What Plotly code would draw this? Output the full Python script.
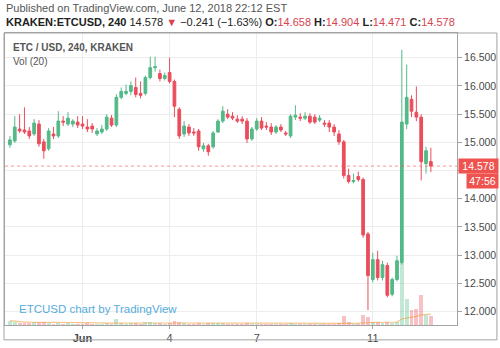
import pandas as pd
import plotly.graph_objects as go

# ---------------- data (4h candles, KRAKEN ETC/USD) ----------------
start = "2018-05-29 12:00"
n_candles = 88
times = pd.date_range(start, periods=n_candles, freq="4h")

opens = [14.955, 15.025, 15.236, 15.218, 15.201, 15.148, 15.324, 15.008, 14.885, 15.148,
         15.113, 15.376, 15.324, 15.324, 15.359, 15.324, 15.271, 15.288, 15.148, 15.183,
         15.236, 15.429, 15.306, 15.798, 15.868, 15.903, 15.973, 15.868, 15.868, 16.149,
         16.324, 16.219, 16.131, 16.237, 16.079, 15.587, 15.148, 15.271, 15.183, 15.201,
         14.885, 14.938, 14.920, 15.183, 15.376, 15.499, 15.464, 15.411, 15.411, 15.376,
         15.060, 15.236, 15.376, 15.289, 15.271, 15.183, 15.271, 15.166, 15.113, 15.447,
         15.447, 15.429, 15.464, 15.447, 15.394, 15.341, 15.341, 15.271, 15.148, 15.008,
         14.411, 14.305, 14.393, 14.340, 13.375, 12.567, 12.918, 12.602, 12.813, 12.304,
         12.567, 12.866, 15.324, 15.763, 15.534, 15.447, 14.622, 14.658]
highs = [15.113, 15.464, 15.499, 15.622, 15.271, 15.411, 15.394, 15.060, 15.253, 15.271,
         15.552, 15.464, 15.534, 15.411, 15.464, 15.464, 15.411, 15.341, 15.253, 15.306,
         15.499, 15.482, 15.851, 15.973, 16.026, 16.079, 16.149, 16.079, 16.184, 16.518,
         16.518, 16.289, 16.237, 16.500, 16.114, 15.622, 15.376, 15.324, 15.253, 15.236,
         14.990, 14.973, 15.201, 15.411, 15.640, 15.587, 15.534, 15.482, 15.464, 15.429,
         15.271, 15.429, 15.447, 15.359, 15.341, 15.306, 15.324, 15.201, 15.499, 15.657,
         15.517, 15.534, 15.517, 15.499, 15.482, 15.394, 15.394, 15.324, 15.218, 15.043,
         14.534, 14.446, 14.481, 14.376, 13.410, 13.041, 13.076, 12.900, 12.865, 12.602,
         12.988, 16.640, 16.377, 15.833, 15.991, 15.499, 14.920, 14.904]
lows = [14.903, 14.990, 15.166, 15.148, 15.060, 15.113, 14.920, 14.709, 14.850, 15.060,
        15.078, 15.288, 15.288, 15.271, 15.253, 15.236, 15.183, 15.166, 15.113, 15.148,
        15.201, 15.271, 15.271, 15.763, 15.833, 15.833, 15.798, 15.780, 15.833, 16.114,
        16.254, 16.079, 16.096, 16.044, 15.447, 15.060, 15.096, 15.113, 15.113, 14.850,
        14.832, 14.762, 14.885, 15.166, 15.341, 15.411, 15.394, 15.341, 15.324, 14.990,
        15.025, 15.201, 15.218, 15.218, 15.130, 15.148, 15.183, 15.113, 15.078, 15.394,
        15.376, 15.394, 15.324, 15.324, 15.359, 15.271, 15.183, 15.113, 14.955, 14.358,
        14.270, 14.270, 14.305, 13.305, 12.023, 12.515, 12.550, 12.550, 12.251, 12.269,
        12.532, 12.830, 15.236, 15.447, 15.376, 14.323, 14.446, 14.471]
closes = [15.043, 15.271, 15.201, 15.183, 15.113, 15.341, 14.973, 14.850, 15.201, 15.113,
          15.376, 15.359, 15.429, 15.376, 15.306, 15.288, 15.236, 15.236, 15.201, 15.236,
          15.447, 15.306, 15.798, 15.903, 15.903, 16.008, 15.850, 15.833, 16.149, 16.324,
          16.342, 16.131, 16.184, 16.079, 15.640, 15.113, 15.289, 15.166, 15.166, 14.920,
          14.938, 14.832, 15.166, 15.376, 15.552, 15.447, 15.429, 15.376, 15.376, 15.060,
          15.236, 15.376, 15.253, 15.271, 15.183, 15.271, 15.218, 15.148, 15.464, 15.482,
          15.429, 15.464, 15.359, 15.359, 15.429, 15.324, 15.271, 15.183, 15.008, 14.411,
          14.305, 14.323, 14.340, 13.357, 12.637, 12.918, 12.602, 12.830, 12.286, 12.567,
          12.900, 15.359, 15.798, 15.552, 15.447, 14.657, 14.850, 14.578]
volumes = [45, 30, 25, 20, 22, 28, 30, 26, 24, 15,
           25, 14, 18, 12, 15, 14, 16, 12, 14, 10,
           20, 15, 60, 25, 15, 18, 22, 14, 30, 35,
           25, 18, 12, 25, 40, 35, 20, 15, 12, 25,
           15, 18, 20, 16, 22, 12, 10, 10, 12, 25,
           15, 14, 12, 8, 10, 9, 8, 8, 22, 14,
           9, 8, 10, 10, 8, 7, 12, 14, 25, 90,
           30, 12, 15, 100, 85, 35, 28, 20, 30, 22,
           30, 630, 260, 150, 165, 300, 100, 90]

price_ticks = [12.0, 12.5, 13.0, 13.5, 14.0, 14.5, 15.0, 15.5, 16.0, 16.5]
date_ticks = ["2018-06-01", "2018-06-04", "2018-06-07", "2018-06-11"]
date_tick_text = ["<b>Jun</b>", "4", "7", "11"]
last_price = 14.578
countdown = "47:56"

UP = "#53b987"
DOWN = "#eb4d5c"

# ---------------- figure ----------------
W, H = 500, 348
ml, mr, mt, mb = 4, 43, 33, 20
pw, ph = W - ml - mr, H - mt - mb

def px_x(x):
    return (x - ml) / pw

def px_y(y):
    return (H - mb - y) / ph

vol_colors = ["rgba(83,185,135,0.35)" if c >= o else "rgba(235,77,92,0.35)"
              for o, c in zip(opens, closes)]
vol_ma = pd.Series(volumes).rolling(20, min_periods=1).mean()

fig = go.Figure()
fig.add_trace(go.Bar(x=times, y=volumes, marker=dict(color=vol_colors, line=dict(width=0)),
                     width=4 * 3600 * 1000 * 0.8, yaxis="y", hoverinfo="skip",
                     showlegend=False))
fig.add_trace(go.Scatter(x=times, y=vol_ma, mode="lines", yaxis="y",
                         line=dict(color="rgba(240,160,70,0.6)", width=1.2),
                         hoverinfo="skip", showlegend=False))
fig.add_trace(go.Candlestick(x=times, open=opens, high=highs, low=lows, close=closes,
                             yaxis="y2", whiskerwidth=0,
                             increasing=dict(line=dict(color=UP, width=1), fillcolor=UP),
                             decreasing=dict(line=dict(color=DOWN, width=1), fillcolor=DOWN),
                             hoverinfo="skip", showlegend=False))

t0 = pd.Timestamp(start)
x_left = t0 - pd.Timedelta(hours=4 * 1.02)
x_right = t0 + pd.Timedelta(hours=4 * 92.4)

y_top = 16.5 + (58 - 33) / 56.96
y_bot = 16.5 - (328 - 58) / 56.96

FRAME = "#a3a3a3"
GRID = "#ededed"
TXT = "#4a4a4a"
FONT = "Liberation Sans"

fig.update_layout(
    width=W, height=H, margin=dict(l=ml, r=mr, t=mt, b=mb),
    paper_bgcolor="white", plot_bgcolor="white",
    font=dict(family=FONT, size=10, color=TXT),
    bargap=0, boxgap=0.2, showlegend=False,
    xaxis=dict(type="date", range=[x_left, x_right], rangeslider=dict(visible=False),
               tickvals=pd.to_datetime(date_ticks), ticktext=date_tick_text,
               showgrid=True, gridcolor=GRID, gridwidth=1,
               ticks="outside", ticklen=3, tickcolor=FRAME,
               tickfont=dict(size=11, color=TXT, family=FONT),
               showline=True, linecolor=FRAME, linewidth=1, mirror=True,
               zeroline=False, fixedrange=True),
    yaxis=dict(range=[0, 2950], visible=False, fixedrange=True),
    yaxis2=dict(overlaying="y", side="right", range=[y_bot, y_top],
                tickvals=price_ticks,
                ticktext=["" if abs(v - 14.5) < 1e-9 else f"{v:.3f}" for v in price_ticks],
                showgrid=True, gridcolor=GRID, gridwidth=1,
                ticks="outside", ticklen=4, tickcolor=FRAME,
                tickfont=dict(size=10.5, color=TXT, family=FONT),
                showline=True, linecolor=FRAME, linewidth=1, mirror=True,
                zeroline=False, fixedrange=True),
)

# outer frame (price/time axis panels)
fig.add_shape(type="rect", xref="paper", yref="paper",
              x0=px_x(3), x1=px_x(497), y0=px_y(343), y1=px_y(33),
              line=dict(color=FRAME, width=1), fillcolor="rgba(0,0,0,0)", layer="above")

# last price line
fig.add_shape(type="line", xref="paper", yref="y2", x0=0, x1=1, y0=last_price, y1=last_price,
              line=dict(color="rgba(239,83,80,0.6)", width=1, dash="dot"), layer="above")

# headers
fig.add_annotation(xref="paper", yref="paper", x=px_x(3), y=px_y(8), xanchor="left",
                   yanchor="middle", showarrow=False,
                   text="Published on TradingView.com, June 12, 2018 22:12 EST",
                   font=dict(size=11, color="#555555", family=FONT))
RED = "#d9434f"
hdr = ("<b>KRAKEN:ETCUSD, 240</b> 14.578 <span style='color:%s'>▼</span> −0.241 (−1.63%%) "
       "<b>O:</b><span style='color:%s'>14.658</span> <b>H:</b><span style='color:%s'>14.904</span> "
       "<b>L:</b><span style='color:%s'>14.471</span> <b>C:</b><span style='color:%s'>14.578</span>"
       % (RED, RED, RED, RED, RED))
fig.add_annotation(xref="paper", yref="paper", x=px_x(3), y=px_y(22), xanchor="left",
                   yanchor="middle", showarrow=False, text=hdr,
                   font=dict(size=11, color="#222222", family=FONT))
fig.add_annotation(xref="paper", yref="paper", x=px_x(10), y=px_y(48), xanchor="left",
                   yanchor="middle", showarrow=False, text="<b>ETC / USD, 240, KRAKEN</b>",
                   font=dict(size=10, color="#555555", family=FONT))
fig.add_annotation(xref="paper", yref="paper", x=px_x(10), y=px_y(62), xanchor="left",
                   yanchor="middle", showarrow=False, text="Vol (20)",
                   font=dict(size=10, color="#555555", family=FONT))
fig.add_annotation(xref="paper", yref="paper", x=px_x(16), y=px_y(312), xanchor="left",
                   yanchor="middle", showarrow=False, text="ETCUSD chart by TradingView",
                   font=dict(size=11.5, color="#55addb", family=FONT))

# price label & countdown
fig.add_annotation(xref="paper", yref="y2", x=1, y=last_price, xanchor="left",
                   yanchor="middle", xshift=1, showarrow=False, text=f"{last_price:.3f}",
                   bgcolor="#ef5350", borderpad=1, width=37, height=12, align="center",
                   font=dict(size=10.5, color="white", family=FONT))
fig.add_annotation(xref="paper", yref="y2", x=1, y=last_price, xanchor="left",
                   yanchor="middle", xshift=9, yshift=-15, showarrow=False, text=countdown,
                   bgcolor="#ef5350", borderpad=1, width=29, height=12, align="center",
                   font=dict(size=10.5, color="white", family=FONT))

fig.write_html("out.html")
